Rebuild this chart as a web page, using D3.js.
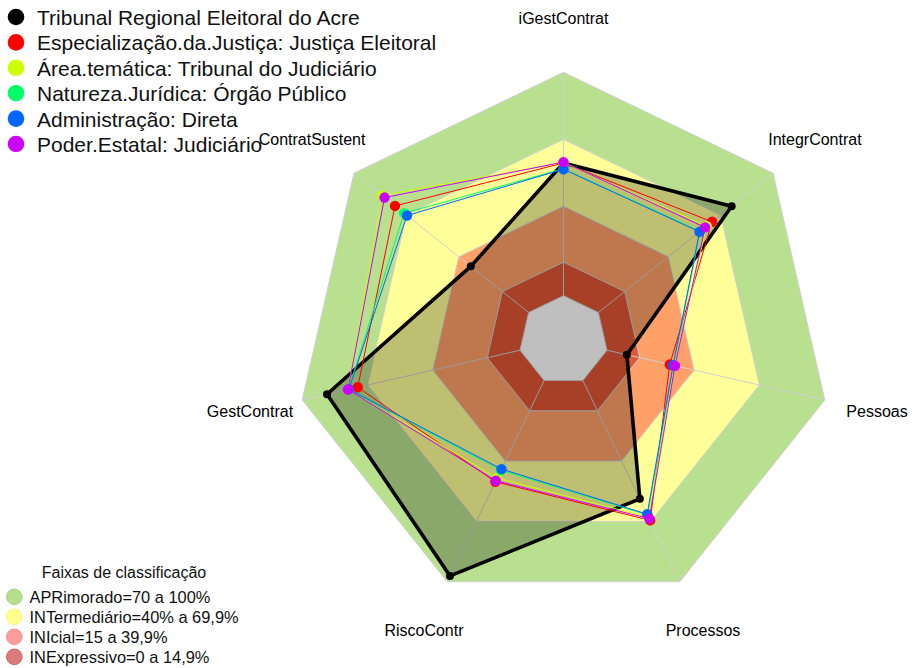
<!DOCTYPE html>
<html>
<head>
<meta charset="utf-8">
<script src="https://cdn.jsdelivr.net/npm/d3@7"></script>
<style>
  html, body { margin: 0; padding: 0; background: #ffffff; }
  svg { display: block; font-family: "Liberation Sans", Arial, Helvetica, sans-serif; }
</style>
</head>
<body>
<svg id="chart" width="912" height="668"></svg>
<script>
// Indicator axes, clockwise from the top
const axes = ["iGestContrat", "IntegrContrat", "Pessoas", "Processos", "RiscoContr", "GestContrat", "ContratSustent"];

// Series names (legend order)
const seriesNames = [
  "Tribunal Regional Eleitoral do Acre",
  "Especialização.da.Justiça: Justiça Eleitoral",
  "Área.temática: Tribunal do Judiciário",
  "Natureza.Jurídica: Órgão Público",
  "Administração: Direta",
  "Poder.Estatal: Judiciário"
];
const seriesColors = ["#000000", "#FF0000", "#CCFF00", "#00FF66", "#0066FF", "#CC00FF"];

// Scores (0–100) per axis, same order as `axes`
const tre       = [59.4, 76.3,  9.1, 58.8, 97.1, 88.6, 33.1];
const especial  = [59.4, 65.1, 28.8, 69.5, 50.3, 74.5, 76.5];
const areaTem   = [59.6, 62.0, 30.8, 68.0, 48.5, 79.0, 84.0];
const natureza  = [56.8, 58.3, 30.5, 66.8, 44.6, 78.8, 71.3];
const adminDir  = [56.6, 57.9, 30.3, 66.4, 44.0, 78.6, 69.6];
const poderEst  = [59.8, 61.1, 31.2, 68.6, 49.8, 79.0, 82.5];
const seriesValues = [tre, especial, areaTem, natureza, adminDir, poderEst];

// Classification bands
const bandLabels = ["APRimorado=70 a 100%", "INTermediário=40% a 69,9%", "INIcial=15 a 39,9%", "INExpressivo=0 a 14,9%"];
const bandUpper  = [100, 70, 40, 15];
const bandFill   = ["#b8e08e", "#ffff99", "#ffa068", "#e05636"];
const bandLegend = ["#b5de8e", "#ffff8c", "#ff9d9d", "#d97a7b"];
const bandLegendStroke = ["#a9d47f", "#f5f57e", "#f48e8e", "#c96768"];

const svg = d3.select("#chart");
const cx = 563.5, cy = 340.3, R = 268;

const rScale = d3.scaleLinear().domain([0, 100]).range([R / 6, R]);
const aScale = d3.scaleLinear().domain([0, axes.length]).range([0, 2 * Math.PI]);

const pt = (i, v) => {
  const a = aScale(i), r = rScale(v);
  return [cx + r * Math.sin(a), cy - r * Math.cos(a)];
};
const ring = v => axes.map((_, i) => pt(i, v));
const closed = d3.line().curve(d3.curveLinearClosed);

const g = svg.append("g");

// Background bands, stacked from outside in
bandUpper.forEach((v, k) => {
  g.append("path").attr("d", closed(ring(v)))
    .attr("fill", bandFill[k]).attr("stroke", "#cfcfcf").attr("stroke-width", 1);
});
// inner hole (value 0)
g.append("path").attr("d", closed(ring(0)))
  .attr("fill", "#ffffff").attr("stroke", "#cfcfcf").attr("stroke-width", 1);

// Radial axis lines
axes.forEach((_, i) => {
  const [x0, y0] = pt(i, 0), [x1, y1] = pt(i, 100);
  g.append("line").attr("x1", x0).attr("y1", y0).attr("x2", x1).attr("y2", y1)
    .attr("stroke", "#cfcfcf").attr("stroke-width", 1);
});

// Axis labels
axes.forEach((name, i) => {
  const a = aScale(i), rr = R * 1.2;
  g.append("text")
    .attr("x", cx + rr * Math.sin(a)).attr("y", cy - rr * Math.cos(a))
    .attr("dy", "0.35em").attr("text-anchor", "middle")
    .attr("font-size", 16).attr("fill", "#000").text(name);
});

// Main series: shaded polygon with heavy outline
const mainPts = tre.map((v, i) => pt(i, v));
g.append("path").attr("d", closed(mainPts))
  .attr("fill", "rgba(0,0,0,0.25)").attr("stroke", "#000").attr("stroke-width", 3.6)
  .attr("stroke-linejoin", "round");
g.selectAll(".mainpt").data(mainPts).join("circle")
  .attr("cx", d => d[0]).attr("cy", d => d[1]).attr("r", 4).attr("fill", "#000");

// Comparison series: thin outlines with dots
seriesValues.slice(1).forEach((vals, k) => {
  const col = seriesColors[k + 1];
  const pts = vals.map((v, i) => pt(i, v));
  g.append("path").attr("d", closed(pts))
    .attr("fill", "none").attr("stroke", col).attr("stroke-width", 1);
  g.selectAll(null).data(pts).join("circle")
    .attr("cx", d => d[0]).attr("cy", d => d[1]).attr("r", 5.2).attr("fill", col);
});

// Series legend (top-left)
const leg = svg.append("g");
seriesNames.forEach((name, i) => {
  const base = 25 + i * 25.4;
  leg.append("circle").attr("cx", 16).attr("cy", base - 8).attr("r", 8.3).attr("fill", seriesColors[i]);
  leg.append("text").attr("x", 37).attr("y", base)
    .attr("font-size", 21).attr("fill", "#111").text(name);
});

// Band legend (bottom-left)
const bl = svg.append("g");
bl.append("text").attr("x", 124).attr("y", 578).attr("text-anchor", "middle")
  .attr("font-size", 16).attr("fill", "#111").text("Faixas de classificação");
bandLabels.forEach((lab, k) => {
  const base = 603.3 + k * 20;
  bl.append("circle").attr("cx", 14.3).attr("cy", base - 6.5).attr("r", 7.8)
    .attr("fill", bandLegend[k]).attr("stroke", bandLegendStroke[k]).attr("stroke-width", 1);
  bl.append("text").attr("x", 29.5).attr("y", base)
    .attr("font-size", 16.4).attr("fill", "#111").text(lab);
});
</script>
</body>
</html>
